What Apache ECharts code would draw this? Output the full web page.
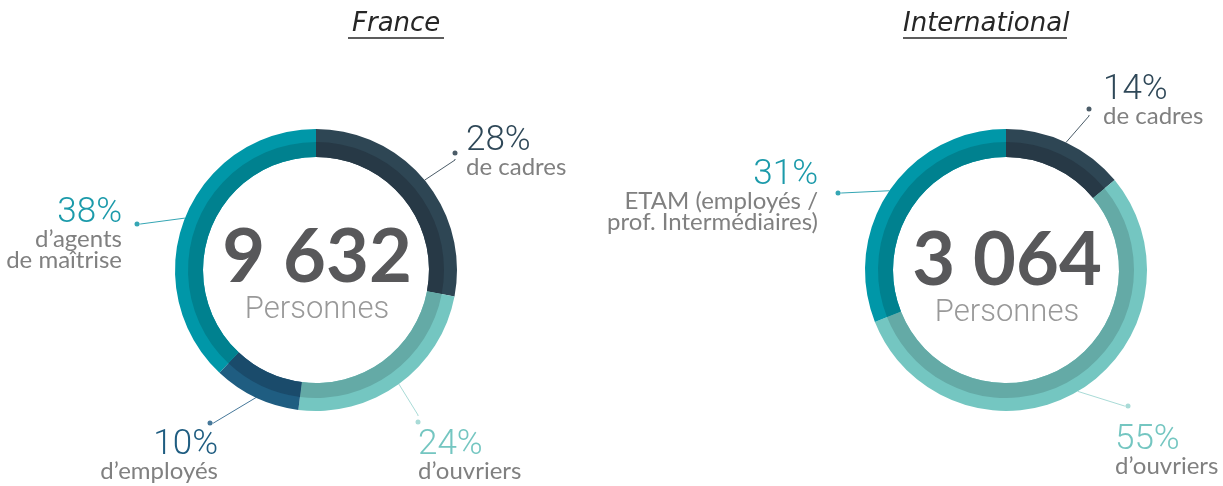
<!DOCTYPE html>
<html>
<head>
<meta charset="utf-8">
<title>Effectifs France / International</title>
<script src="https://cdn.jsdelivr.net/npm/echarts@6/dist/echarts.min.js"></script>
<style>
html,body{margin:0;padding:0;background:#fff;}
#main{width:1223px;height:486px;}
</style>
</head>
<body>
<div id="main"></div>
<script>
// donnees France
var franceLabels = ['de cadres', 'd’ouvriers', 'd’employés', 'd’agents\nde maîtrise'];
var franceValues = [28, 24, 10, 38];
var franceTotal = '9 632';

// donnees International
var intlLabels = ['de cadres', 'd’ouvriers', 'ETAM (employés /\nprof. Intermédiaires)'];
var intlValues = [14, 55, 31];
var intlTotal = '3 064';

var unitLabel = 'Personnes';
var titles = ['France', 'International'];

// couleurs par categorie
var franceColors = {
    outer: ['#2e4654', '#74c6c1', '#1f5d81', '#0097a8'],
    inner: ['#273946', '#64aaa6', '#1a4b6b', '#00818f'],
    line:  ['#4b5c68', '#a9dbd7', '#46789a', '#35a6b4'],
    text:  ['#2f4858', '#74c6c1', '#1f5d81', '#1b9aaa']
};
var intlColors = {
    outer: ['#2e4654', '#74c6c1', '#0097a8'],
    inner: ['#273946', '#64aaa6', '#00818f'],
    line:  ['#4b5c68', '#a9dbd7', '#35a6b4'],
    text:  ['#2f4858', '#74c6c1', '#1b9aaa']
};

// position des points et des textes
var franceDots = [[455, 153], [418, 422], [210, 423], [137, 224]];
var franceText = [[466, 126, 'left'], [418, 430, 'left'], [218, 430, 'right'], [122, 198, 'right']];
var intlDots = [[1089, 109], [1128, 406], [838, 193]];
var intlText = [[1103, 75, 'left'], [1115, 425, 'left'], [818, 160, 'right']];

var FONT = 'Lato, "Open Sans", sans-serif';
var FONT_LIGHT = 'Roboto, Lato, sans-serif';

function buildRing(center, values, labels, colors, dots, texts){
    // anneau complet (teinte claire) + points et traits de rappel
    var outer = {
        type: 'pie',
        center: center,
        radius: [113, 141],
        startAngle: 90,
        clockwise: true,
        avoidLabelOverlap: false,
        silent: true,
        animation: false,
        itemStyle: {borderWidth: 0},
        label: {
            show: true,
            formatter: '{d| }',
            distanceToLabelLine: 0
        },
        labelLine: {
            show: true,
            length: 20,
            length2: 1,
            smooth: false
        },
        labelLayout: function(p){
            var d = dots[p.dataIndex];
            return {x: d[0], y: d[1], align: 'center', verticalAlign: 'middle'};
        },
        data: values.map(function(v, i){
            return {
                value: v,
                name: labels[i],
                itemStyle: {color: colors.outer[i]},
                label: {rich: {d: {width: 5, height: 5, borderRadius: 2.5, backgroundColor: colors.line[i]}}},
                labelLine: {lineStyle: {color: colors.line[i], width: 1}}
            };
        })
    };
    // bande interieure (teinte foncee) + textes
    var inner = {
        type: 'pie',
        center: center,
        radius: [113, 128],
        startAngle: 90,
        clockwise: true,
        avoidLabelOverlap: false,
        silent: true,
        animation: false,
        itemStyle: {borderWidth: 0},
        label: {
            show: true,
            formatter: function(p){
                return '{p|' + p.value + '%}\n{s|' + p.name.split('\n').join('}\n{s|') + '}';
            },
            rich: {
                p: {fontFamily: FONT_LIGHT, fontSize: 35, fontWeight: 300, lineHeight: 31},
                s: {fontFamily: FONT, fontSize: 24, lineHeight: 21, color: '#808080'}
            }
        },
        labelLine: {show: false},
        labelLayout: function(p){
            var t = texts[p.dataIndex];
            return {x: t[0], y: t[1], align: t[2], verticalAlign: 'top'};
        },
        data: values.map(function(v, i){
            return {
                value: v,
                name: labels[i],
                itemStyle: {color: colors.inner[i]},
                label: {rich: {p: {color: colors.text[i]}}}
            };
        })
    };
    return [outer, inner];
}

function centerText(x, y, total){
    return [{
        type: 'text', x: x, y: y,
        style: {text: total, fontFamily: FONT, fontWeight: 'bold', fontSize: 74, fill: '#58585a', align: 'center', verticalAlign: 'middle'}
    }, {
        type: 'text', x: x, y: y + 52,
        style: {text: unitLabel, fontFamily: FONT_LIGHT, fontWeight: 300, fontSize: 31, fill: '#999999', align: 'center', verticalAlign: 'middle'}
    }];
}

var dom = document.getElementById('main');
var myChart = echarts.init(dom);

var option = {
    backgroundColor: '#fff',
    graphic: [
        {type: 'text', x: 352, y: 24, style: {text: titles[0], fontFamily: '"DejaVu Sans"', fontStyle: 'italic', fontSize: 26, fill: '#262626', align: 'left', verticalAlign: 'middle'}},
        {type: 'line', shape: {x1: 348, y1: 38, x2: 444, y2: 38}, style: {stroke: '#262626', lineWidth: 1.5}},
        {type: 'text', x: 903, y: 24, style: {text: titles[1], fontFamily: '"DejaVu Sans"', fontStyle: 'italic', fontSize: 26, fill: '#262626', align: 'left', verticalAlign: 'middle'}},
        {type: 'line', shape: {x1: 903, y1: 38, x2: 1067, y2: 38}, style: {stroke: '#262626', lineWidth: 1.5}}
    ].concat(centerText(317, 258, franceTotal), centerText(1007, 261, intlTotal)),
    series: buildRing([316, 270], franceValues, franceLabels, franceColors, franceDots, franceText)
        .concat(buildRing([1006, 270], intlValues, intlLabels, intlColors, intlDots, intlText))
};

myChart.setOption(option);
window.addEventListener('resize', function(){
    myChart.resize();
});
</script>
</body>
</html>
